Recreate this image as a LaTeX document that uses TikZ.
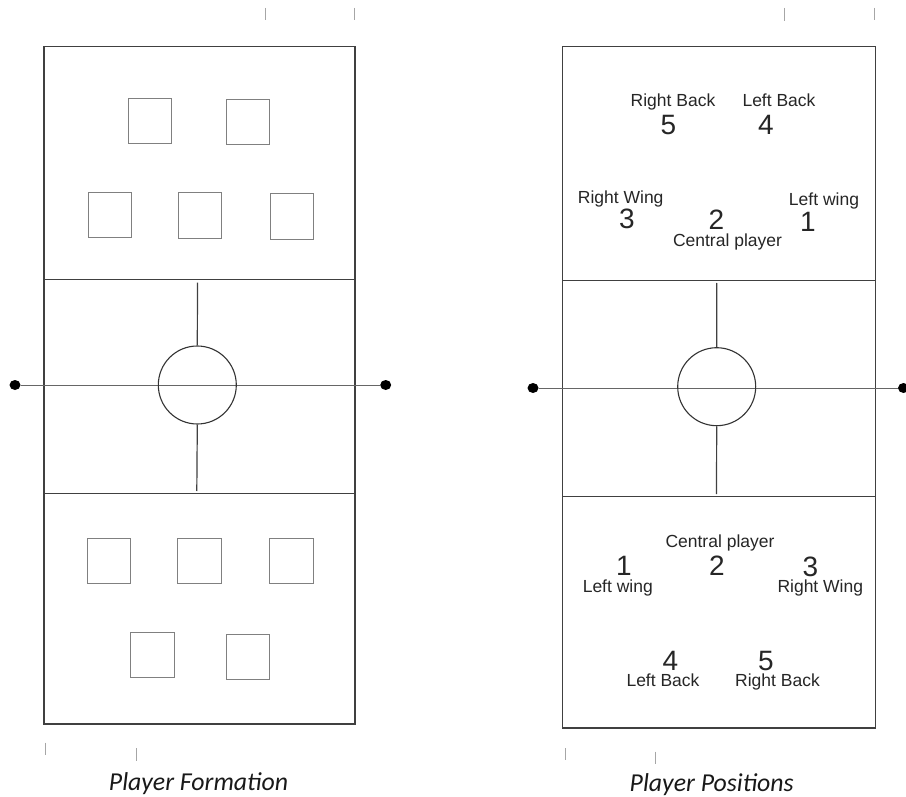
\documentclass[tikz,border=0pt]{standalone}
\usepackage{fontspec}
\setmainfont{Liberation Sans}
\newfontfamily\capfont{Carlito}
\tikzset{
  court/.style={draw=black!75, line width=1.3pt},
  divline/.style={draw=black!75, line width=1.2pt},
  midline/.style={draw=black!60, line width=0.9pt},
  playerbox/.style={draw=black!50, line width=1pt},
  tickmark/.style={draw=black!35, line width=0.9pt},
  centre/.style={circle, draw=black!80, line width=1.1pt, minimum size=78pt, inner sep=0pt},
  balldot/.style={ellipse, fill=black, minimum width=11pt, minimum height=10pt, inner sep=0pt},
  lbl/.style={anchor=base, inner sep=0pt, font=\fontsize{17.5}{18}\selectfont, text=black!85},
  num/.style={anchor=base, inner sep=0pt, font=\fontsize{28}{28}\selectfont, text=black!85},
  capt/.style={anchor=base, inner sep=0pt, font=\capfont\itshape\fontsize{25.8}{26}\selectfont, text=black!90}
}
\usetikzlibrary{shapes.geometric}
\begin{document}
\begin{tikzpicture}[x=1pt,y=-1pt]
\useasboundingbox (0,0) rectangle (906,797);
\fill[white] (0,0) rectangle (906,797);
% ---------- top ticks ----------
\draw[tickmark] (265,8) -- (265,20);
\draw[tickmark] (354,8) -- (354,20);
\draw[tickmark] (784,8) -- (784,21);
\draw[tickmark] (874,8) -- (874,20);
% ---------- bottom ticks ----------
\draw[tickmark] (45.7,742.5) -- (45.7,755);
\draw[tickmark] (136,748) -- (136,760.5);
\draw[tickmark] (565,748) -- (565,760);
\draw[tickmark] (655.3,751.5) -- (655.3,764);

% ================= LEFT COURT =================
\draw[court] (44,46.5) rectangle (355,724);
\draw[divline] (44,279.3) -- (355,279.3);
\draw[divline] (44,493.8) -- (355,493.8);
\node[balldot] (la) at (15,385) {};
\node[balldot] (lb) at (385.7,385) {};
\draw[midline] (la) -- (lb);
\node[centre] (lc) at (197.3,385) {};
\draw[divline] (lc.north) -- (197.5,282.7);
\draw[divline] (lc.south) -- (196.8,491);
% squares top half
\draw[playerbox] (128.3,98.3) rectangle (171.7,143.3);
\draw[playerbox] (226,99.3) rectangle (269.3,144.3);
\draw[playerbox] (88.3,192.3) rectangle (131.7,237.7);
\draw[playerbox] (178.3,192.3) rectangle (221,238.3);
\draw[playerbox] (270,194) rectangle (313.3,239.3);
% squares bottom half
\draw[playerbox] (87.3,538.3) rectangle (130.3,583.7);
\draw[playerbox] (177.7,538.3) rectangle (221,583.7);
\draw[playerbox] (269.7,538.3) rectangle (313,583.7);
\draw[playerbox] (130.7,632) rectangle (174,677.7);
\draw[playerbox] (226,634) rectangle (269,679.7);
\node[capt] (capl) at (198.5,790.5) {Player Formation};

% ================= RIGHT COURT =================
\draw[court] (562.5,46.5) rectangle (875.5,728);
\draw[divline] (562.5,280.7) -- (875.5,280.7);
\draw[divline] (562.5,496.7) -- (875.5,496.7);
\node[balldot] (ra) at (533,388) {};
\node[balldot] (rb) at (903.5,388) {};
\draw[midline] (ra) -- (rb);
\node[centre] (rc) at (716.7,386.7) {};
\draw[divline] (rc.north) -- (716.8,283);
\draw[divline] (rc.south) -- (716.5,494);
% top half labels
\node[lbl] (t5l) at (673,106.7) {Right Back};
\node[num] (t5) at (668.3,135) {5};
\node[lbl] (t4l) at (779,106.7) {Left Back};
\node[num] (t4) at (765.8,135) {4};
\node[lbl] (t3l) at (620.7,203.3) {Right Wing};
\node[num] (t3) at (627,228.3) {3};
\node[num] (t2) at (716.5,229.3) {2};
\node[lbl] (t2l) at (727.5,246.7) {Central player};
\node[lbl] (t1l) at (824,206) {Left wing};
\node[num] (t1) at (808,231.7) {1};
% bottom half labels
\node[lbl] (b2l) at (720,547.3) {Central player};
\node[num] (b1) at (624,575.5) {1};
\node[lbl] (b1l) at (617.8,592) {Left wing};
\node[num] (b2) at (717,575.7) {2};
\node[num] (b3) at (810.3,576.8) {3};
\node[lbl] (b3l) at (820.3,592) {Right Wing};
\node[num] (b4) at (670.3,670.2) {4};
\node[lbl] (b4l) at (663,686.3) {Left Back};
\node[num] (b5) at (765.8,670.2) {5};
\node[lbl] (b5l) at (777.5,686.3) {Right Back};
\node[capt] (capr) at (711.7,791) {Player Positions};
\end{tikzpicture}
\end{document}
